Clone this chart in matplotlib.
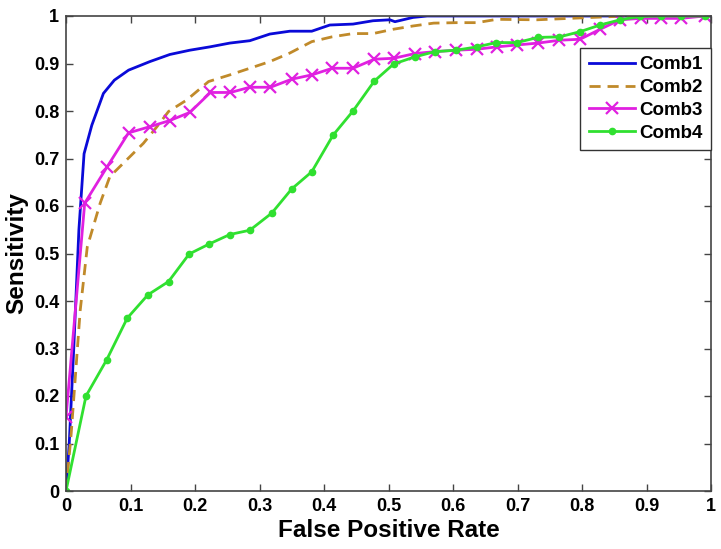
import matplotlib
matplotlib.use("Agg")
import matplotlib.pyplot as plt

plt.rcParams['font.family'] = ['Liberation Sans', 'DejaVu Sans']

comb1_x = [0, 0.005, 0.012, 0.02, 0.028, 0.04, 0.058, 0.075, 0.097, 0.13, 0.161, 0.192, 0.223, 0.254,
           0.285, 0.316, 0.347, 0.381, 0.409, 0.445, 0.476, 0.502, 0.51, 0.538, 0.56, 1.0]
comb1_y = [0, 0.1, 0.3, 0.55, 0.71, 0.77, 0.837, 0.865, 0.886, 0.904, 0.919, 0.928, 0.935, 0.943,
           0.948, 0.962, 0.968, 0.968, 0.981, 0.983, 0.99, 0.992, 0.988, 0.997, 1.0, 1.0]

comb2_x = [0, 0.008, 0.015, 0.022, 0.033, 0.053, 0.068, 0.094, 0.12, 0.141, 0.159, 0.187, 0.221, 0.254,
           0.285, 0.316, 0.347, 0.381, 0.412, 0.445, 0.476, 0.507, 0.538, 0.57, 0.606, 0.637, 0.668,
           0.73, 0.781, 0.833, 0.87, 1.0]
comb2_y = [0, 0.12, 0.25, 0.38, 0.514, 0.606, 0.662, 0.697, 0.732, 0.767, 0.799, 0.823, 0.862, 0.876,
           0.89, 0.904, 0.922, 0.946, 0.956, 0.963, 0.963, 0.972, 0.979, 0.985, 0.986, 0.986, 0.993,
           0.992, 0.995, 0.998, 1.0, 1.0]

comb3_x = [0, 0.029, 0.064, 0.097, 0.13, 0.161, 0.192, 0.224, 0.255, 0.285, 0.317, 0.35, 0.381, 0.413,
           0.445, 0.478, 0.508, 0.541, 0.572, 0.605, 0.637, 0.668, 0.699, 0.732, 0.765, 0.797, 0.828,
           0.859, 0.891, 0.922, 0.953, 0.99]
comb3_y = [0.155, 0.606, 0.683, 0.754, 0.767, 0.78, 0.797, 0.839, 0.839, 0.85, 0.85, 0.867, 0.876, 0.89,
           0.89, 0.909, 0.911, 0.921, 0.925, 0.928, 0.93, 0.935, 0.939, 0.943, 0.949, 0.951, 0.972,
           0.992, 0.995, 0.995, 0.995, 1.0]

comb4_x = [0, 0.031, 0.063, 0.095, 0.127, 0.159, 0.191, 0.222, 0.254, 0.285, 0.319, 0.35, 0.381, 0.414,
           0.445, 0.478, 0.508, 0.541, 0.572, 0.605, 0.637, 0.667, 0.699, 0.732, 0.765, 0.797, 0.828,
           0.859, 0.89, 0.922, 0.953, 0.99]
comb4_y = [0, 0.2, 0.276, 0.364, 0.413, 0.441, 0.499, 0.52, 0.54, 0.549, 0.585, 0.636, 0.672, 0.749,
           0.8, 0.863, 0.899, 0.914, 0.925, 0.928, 0.935, 0.944, 0.944, 0.955, 0.956, 0.967, 0.981,
           0.992, 0.999, 1.0, 1.0, 1.0]

labels = ['Comb1', 'Comb2', 'Comb3', 'Comb4']
xticks = [0, 0.1, 0.2, 0.3, 0.4, 0.5, 0.6, 0.7, 0.8, 0.9, 1]
yticks = [0, 0.1, 0.2, 0.3, 0.4, 0.5, 0.6, 0.7, 0.8, 0.9, 1]
ticklabels = ['0', '0.1', '0.2', '0.3', '0.4', '0.5', '0.6', '0.7', '0.8', '0.9', '1']

fig = plt.figure(figsize=(7.21, 5.49), dpi=100)
ax = fig.add_axes([66/721, 1 - 491/549, 645/721, 475/549])

ax.plot(comb1_x, comb1_y, color='#0a0ad8', lw=2.0, label=labels[0])
ax.plot(comb2_x, comb2_y, color='#c08a2a', lw=2.0, ls=(0, (4, 2.5)), label=labels[1])
ax.plot(comb3_x, comb3_y, color='#e020e0', lw=2.0, marker='x', ms=9, mew=1.6, label=labels[2])
ax.plot(comb4_x, comb4_y, color='#30e030', lw=2.0, marker='o', ms=4.5, label=labels[3])

ax.set_xlim(0, 1)
ax.set_ylim(0, 1)
ax.set_xticks(xticks)
ax.set_yticks(yticks)
ax.set_xticklabels(ticklabels, fontsize=13, fontweight='bold')
ax.set_yticklabels(ticklabels, fontsize=13, fontweight='bold')
ax.tick_params(direction='in', top=True, right=True, length=5, width=1, color='#444444', pad=5)
for s in ax.spines.values():
    s.set_color('#444444')
    s.set_linewidth(1.2)

ax.set_xlabel('False Positive Rate', fontsize=17.5, fontweight='bold', labelpad=3)
ax.set_ylabel('Sensitivity', fontsize=17.5, fontweight='bold', labelpad=4)

leg = ax.legend(loc='upper right', bbox_to_anchor=(1.0, 0.933), borderaxespad=0,
                prop={'size': 13.5, 'weight': 'bold'}, fancybox=False, framealpha=1,
                edgecolor='#333333', handlelength=2.5, labelspacing=0.3, handletextpad=0.2,
                borderpad=0.45)
leg.get_frame().set_linewidth(1.0)

fig.savefig('out.png', dpi=100)
